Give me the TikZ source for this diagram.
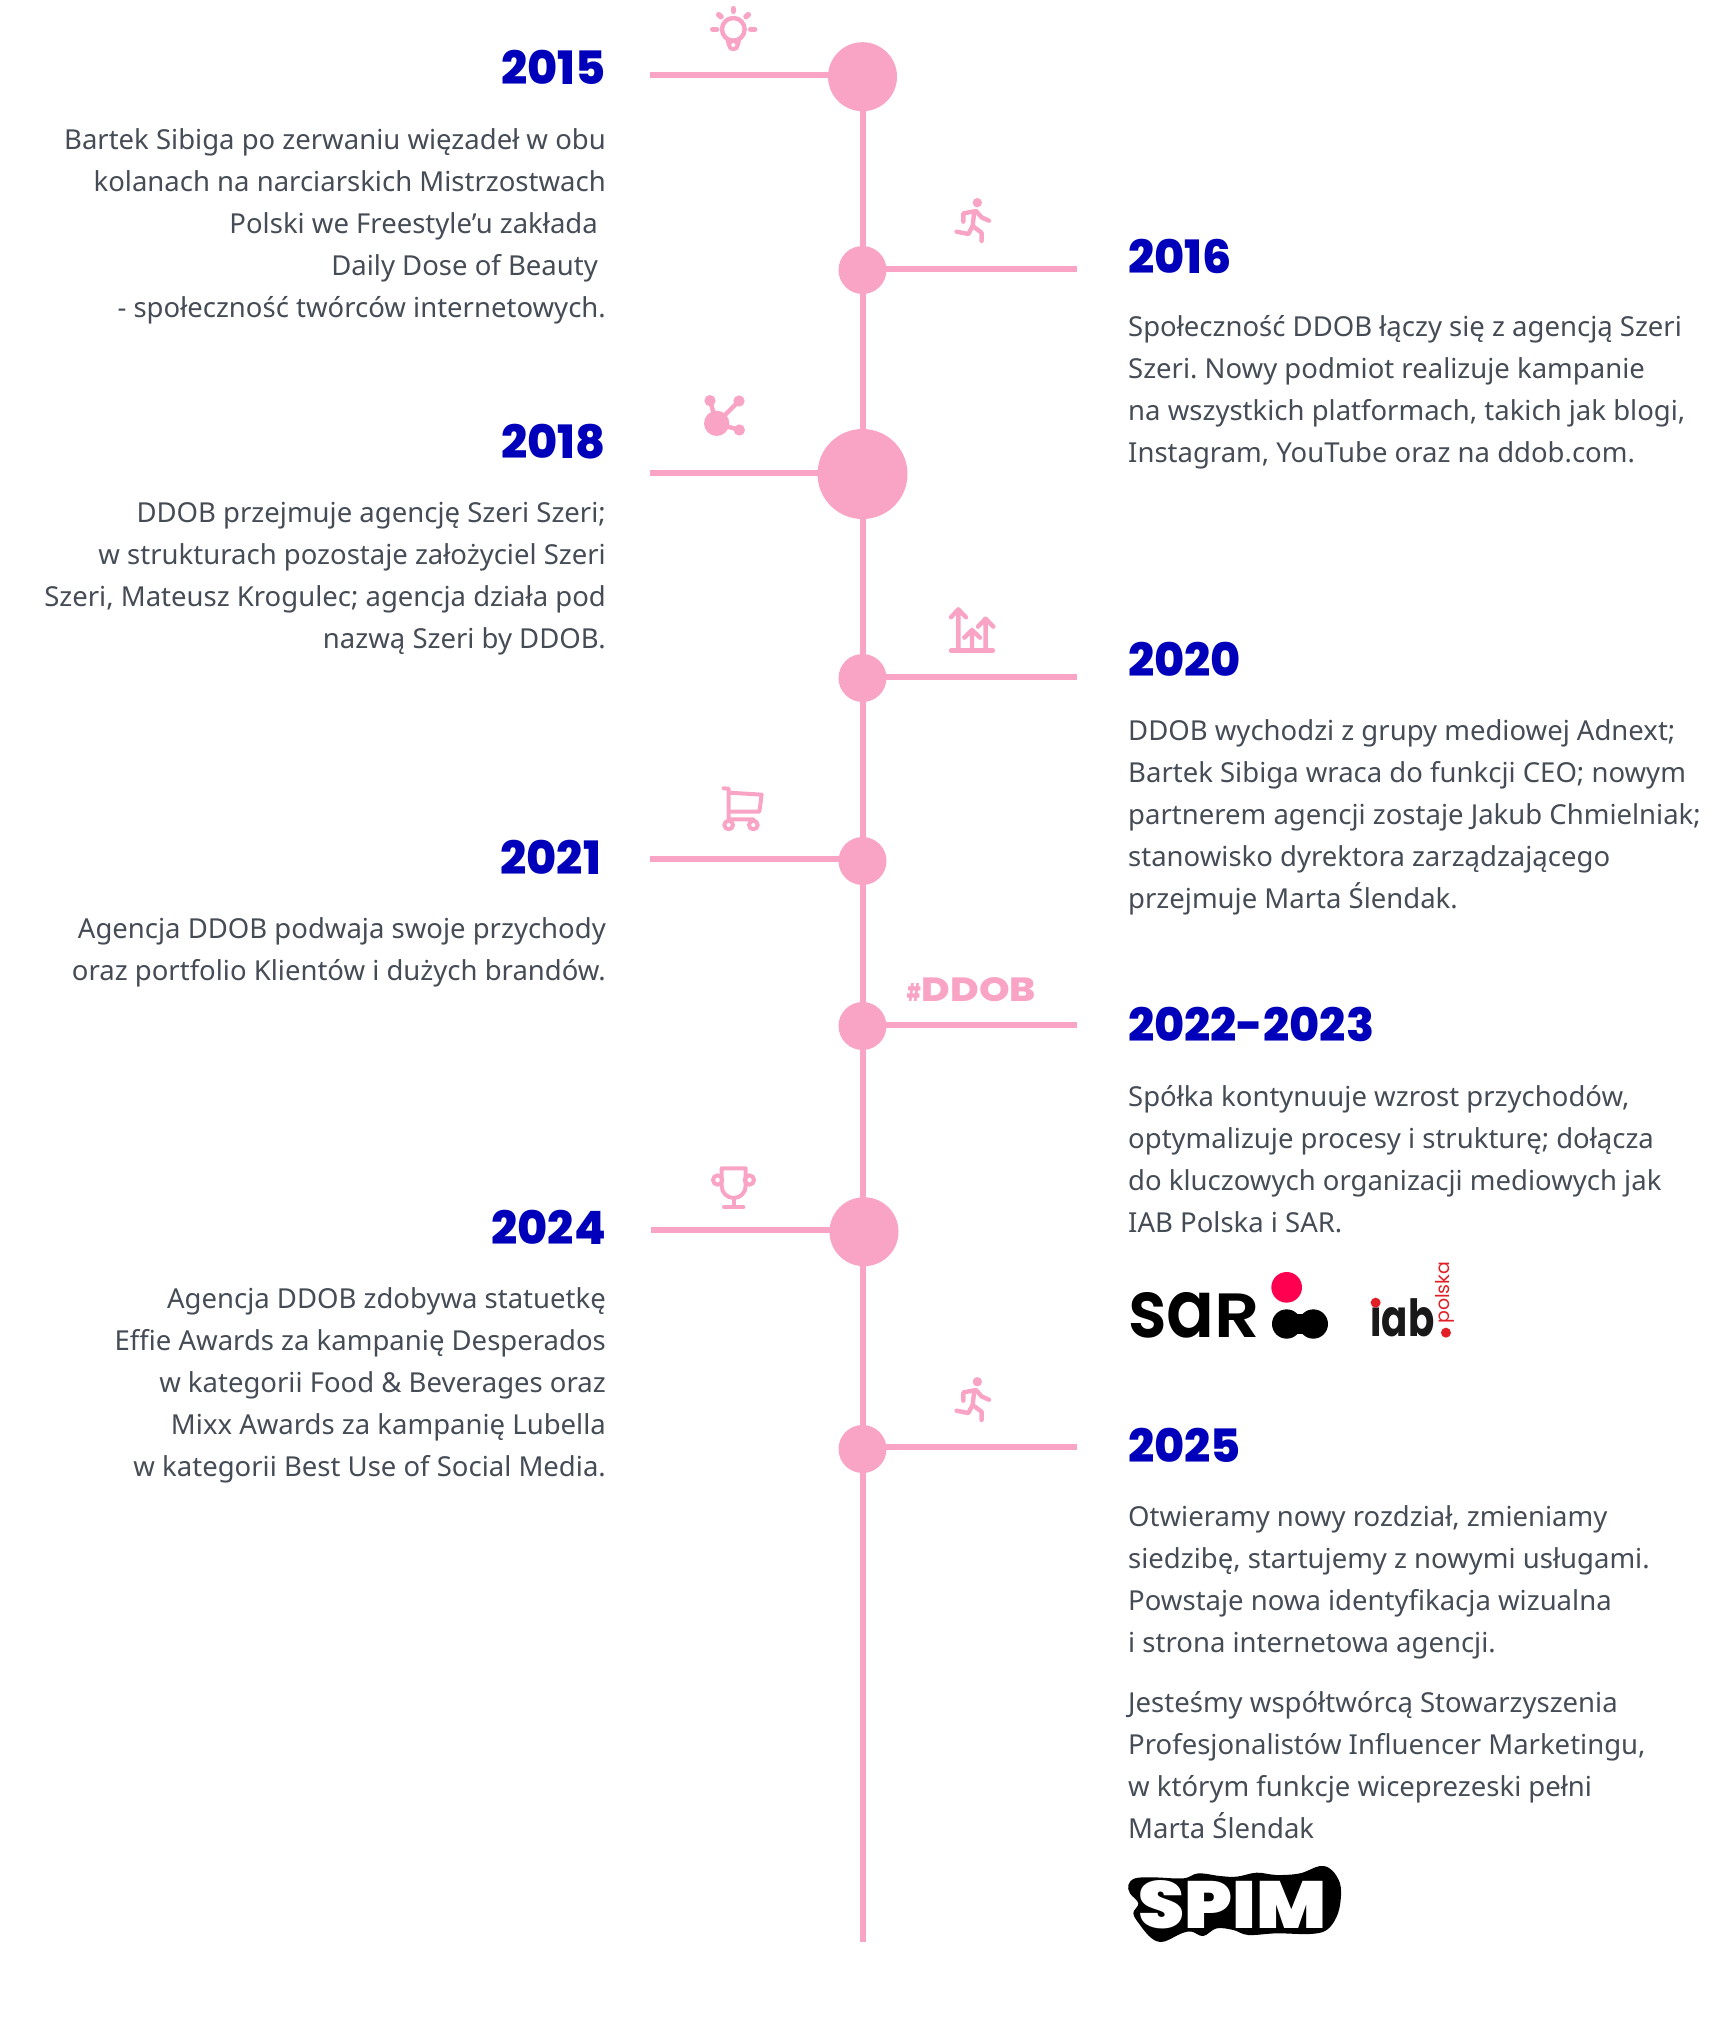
\documentclass[tikz,border=0pt]{standalone}
\usepackage{fontspec}
\usepackage{graphicx}
\setmainfont{Noto Sans}
\newfontfamily\yearfont{Poppins ExtraBold}
\newfontfamily\logofont{Poppins SemiBold}
\newfontfamily\boldlogofont{Poppins Bold}
\newfontfamily\heavyfont{Poppins Black}
\newfontfamily\thinfont{Poppins}
\definecolor{pinkl}{HTML}{FAA4C5}
\definecolor{blueyr}{HTML}{0000BB}
\definecolor{bodytxt}{HTML}{454C55}
\definecolor{sarred}{HTML}{FF0050}
\definecolor{iabred}{HTML}{E01F26}
\tikzset{
  stem/.style={draw=pinkl,line width=6pt},
  dotbig/.style={circle,fill=pinkl,inner sep=0,minimum size=69pt},
  dotsmall/.style={circle,fill=pinkl,inner sep=0,minimum size=48pt},
  dothuge/.style={circle,fill=pinkl,inner sep=0,minimum size=90pt},
  year/.style={inner sep=0,text=blueyr,font=\yearfont\fontsize{46}{46}\selectfont},
  yearl/.style={year,anchor=base east},
  yearr/.style={year,anchor=base west},
  body/.style={inner sep=0,text=bodytxt,font=\fontsize{27.5}{42}\selectfont\frenchspacing},
  bodyl/.style={body,anchor=north east,align=right},
  bodyr/.style={body,anchor=north west,align=left},
  icon/.style={draw=pinkl,line width=4.4pt,line cap=round,line join=round},
  runner/.pic={
    \fill[pinkl] (0,0) circle (4.7);
    \draw[icon] (-14,19) -- (-14,10.7) -- (-1.3,8.3) -- (4.3,14.7) -- (11.7,18);
    \draw[icon] (-3,9) -- (-4.7,23.3) -- (4.3,30) -- (4.3,38.3);
    \draw[icon] (-4.7,23.3) -- (-9,31.3) -- (-20.7,29);
  }
}
\begin{document}
\begin{tikzpicture}[x=1pt,y=-1pt]
\useasboundingbox (0,0) rectangle (1734,2031);
% timeline
\coordinate (tlend) at (862.5,1942);
\coordinate (tltop) at (862.5,76.7);
\draw[stem] (tltop) -- (tlend);
\node[dotbig] (c15) at (862.5,76.7) {};
\node[dotsmall] (c16) at (862.5,270) {};
\node[dothuge] (c18) at (862.5,474) {};
\node[dotsmall] (c20) at (862.5,678) {};
\node[dotsmall] (c21) at (862.5,861) {};
\node[dotsmall] (c22) at (862.5,1026) {};
\node[dotbig] (c24) at (864,1231.7) {};
\node[dotsmall] (c25) at (862.5,1449) {};
% branches
\coordinate (b15) at (649.5,75);
\coordinate (b16) at (1076.7,268.7);
\coordinate (b18) at (649.5,472.7);
\coordinate (b20) at (1076.7,676.7);
\coordinate (b21) at (649.5,859.3);
\coordinate (b22) at (1076.7,1024.7);
\coordinate (b24) at (651,1230);
\coordinate (b25) at (1076.7,1447.3);
\foreach \b/\c in {b15/c15,b16/c16,b18/c18,b20/c20,b21/c21,b22/c22,b24/c24,b25/c25}
  \draw[stem] (\b) -- (\b -| \c);
% years
\node[yearl] (y15) at (606,85) {2015};
\node[yearr] (y16) at (1128,273) {2016};
\node[yearl] (y18) at (606,458) {2018};
\node[yearr] (y20) at (1128,676) {2020};
\node[yearl] (y21) at (601,874) {2021};
\node[yearr] (y22) at (1128,1041) {2022-2023};
\node[yearl] (y24) at (606,1244) {2024};
\node[yearr] (y25) at (1128,1462) {2025};
% body text
\node[bodyl] (t15) at (606,119.6) {\strut Bartek Sibiga po zerwaniu więzadeł w obu\\
kolanach na narciarskich Mistrzostwach\\
Polski we Freestyle’u zakłada\rule{8pt}{0pt}\\
Daily Dose of Beauty\rule{8pt}{0pt}\\
- społeczność twórców internetowych.};
\node[bodyr] (t16) at (1128,306.9) {\strut Społeczność DDOB łączy się z agencją Szeri\\
Szeri. Nowy podmiot realizuje kampanie\\
na wszystkich platformach, takich jak blogi,\\
Instagram, YouTube oraz na ddob.com.};
\node[bodyl] (t18) at (606,493.3) {\strut DDOB przejmuje agencję Szeri Szeri;\\
w strukturach pozostaje założyciel Szeri\\
Szeri, Mateusz Krogulec; agencja działa pod\\
nazwą Szeri by DDOB.};
\node[bodyr] (t20) at (1128,711) {\strut DDOB wychodzi z grupy mediowej Adnext;\\
Bartek Sibiga wraca do funkcji CEO; nowym\\
partnerem agencji zostaje Jakub Chmielniak;\\
stanowisko dyrektora zarządzającego\\
przejmuje Marta Ślendak.};
\node[bodyl] (t21) at (606,909) {\strut Agencja DDOB podwaja swoje przychody\\
oraz portfolio Klientów i dużych brandów.};
\node[bodyr] (t22) at (1128,1077.3) {\strut Spółka kontynuuje wzrost przychodów,\\
optymalizuje procesy i strukturę; dołącza\\
do kluczowych organizacji mediowych jak\\
IAB Polska i SAR.};
\node[bodyl] (t24) at (606,1279.3) {\strut Agencja DDOB zdobywa statuetkę\\
Effie Awards za kampanię Desperados\\
w kategorii Food \& Beverages oraz\\
Mixx Awards za kampanię Lubella\\
w kategorii Best Use of Social Media.};
\node[bodyr] (t25a) at (1128,1497) {\strut Otwieramy nowy rozdział, zmieniamy\\
siedzibę, startujemy z nowymi usługami.\\
Powstaje nowa identyfikacja wizualna\\
i strona internetowa agencji.};
\node[bodyr] (t25b) at (1128,1683.3) {\strut Jesteśmy współtwórcą Stowarzyszenia\\
Profesjonalistów Influencer Marketingu,\\
w którym funkcje wiceprezeski pełni\\
Marta Ślendak};
% bulb
\begin{scope}[shift={(640,3)},x=0.3333pt,y=-0.3333pt]
  \draw[icon] (280,79) circle (34);
  \draw[icon,line width=4pt] (262,108) -- (266,124);
  \draw[icon,line width=4pt] (298,108) -- (294,124);
  \draw[icon,line width=4pt] (280,126) circle (13);
  \draw[icon,line width=5.5pt] (280,17) -- (280,25);
  \draw[icon,line width=5.5pt] (236,35) -- (243,41);
  \draw[icon,line width=5.5pt] (325,35) -- (318,41);
  \draw[icon,line width=5.5pt] (218,79) -- (230,79);
  \draw[icon,line width=5.5pt] (332,79) -- (344,79);
\end{scope}
% runners
\pic at (977.3,202.7) {runner};
\pic at (977.3,1381.7) {runner};
% network
\begin{scope}[shift={(640,380)},x=0.3333pt,y=-0.3333pt]
  \fill[pinkl] (230,130) circle (38);
  \fill[pinkl] (210,62) circle (17);
  \fill[pinkl] (297,63) circle (17);
  \fill[pinkl] (298,150) circle (17);
  \draw[icon,line cap=butt] (210,62) -- (230,130) -- (297,63) (230,130) -- (298,150);
\end{scope}
% growth chart
\begin{scope}[shift={(640,380)},x=0.3333pt,y=-0.3333pt]
  \draw[icon] (933,812) -- (1059,812);
  \draw[icon] (955,812) -- (955,690) (933,712) -- (955,688) -- (978,712);
  \draw[icon] (996,812) -- (996,752) (973,773) -- (996,750) -- (1020,773);
  \draw[icon] (1037,812) -- (1037,718) (1014,740) -- (1037,716) -- (1060,740);
\end{scope}
% cart
\begin{scope}[shift={(680,770)},x=0.3333pt,y=-0.3333pt]
  \draw[icon,line width=4pt] (131,55) -- (146,56) -- (146,148) -- (220,148);
  \draw[icon,line width=4pt] (147,68) -- (245,74) -- (238,125) -- (147,125);
  \draw[icon,line width=4pt] (146,165) circle (13) (220,165) circle (13);
\end{scope}
% trophy
\begin{scope}[shift={(680,1150)},x=0.3333pt,y=-0.3333pt]
  \draw[icon,line width=4pt] (125,55) -- (197,55) -- (197,108) arc (0:180:36) -- cycle;
  \draw[icon,line width=4pt] (161,146) -- (161,170) (132,171) -- (190,171);
  \draw[icon,line width=4pt] (113,90) circle (14) (208,90) circle (14);
\end{scope}
% hashtag
\node[inner sep=0,text=pinkl,anchor=south west] (tagh) at (906.7,1001.7) {\resizebox{14pt}{18pt}{\yearfont\#}};
\node[inner sep=0,text=pinkl,anchor=south west] (tagd) at (921.7,1001.7) {\resizebox{114pt}{24pt}{\yearfont DDOB}};
% SAR logo
\begin{scope}[shift={(1110,1250)},x=0.3333pt,y=-0.3333pt]
  \node[inner sep=0,anchor=south west,text=black] (sar) at (54,265) {\resizebox{132pt}{45pt}{\logofont\scalebox{1}[1.28]{sa}R}};
  \fill[sarred] (530,112) circle (46);
  \fill[black] (530,222) circle (44);
  \fill[black] (610,222) circle (44);
  \fill[black] (530,192) rectangle (610,252);
  \node[inner sep=0,anchor=south west,text=black!90] (iab) at (781,262) {\resizebox{64pt}{41pt}{\boldlogofont iab}};
  \fill[white] (778,136) rectangle (818,172);
  \fill[iabred] (797,158) circle (15);
  \fill[iabred] (1008,248) circle (15);
  \node[inner sep=0,rotate=90,text=iabred] (pol) at (1005,128) {\resizebox{62pt}{!}{\thinfont polska}};
\end{scope}
% SPIM logo
\begin{scope}[shift={(1110,1850)},x=0.3333pt,y=-0.3333pt]
  \fill[black] plot[smooth cycle,tension=0.6] coordinates {(55,105) (75,85) (130,82) (220,85) (265,70) (330,78) (380,80) (440,68) (500,75) (570,70) (630,48) (665,60) (690,100) (692,150) (680,200) (650,240) (600,252) (500,250) (415,255) (370,240) (320,235) (280,258) (245,245) (215,250) (160,275) (125,265) (90,225) (70,190) (85,160) (60,130)};
  \node[inner sep=0,anchor=south west,text=white] (spim) at (85,238) {\resizebox{188pt}{48pt}{\heavyfont SPIM}};
\end{scope}
\end{tikzpicture}
\end{document}
